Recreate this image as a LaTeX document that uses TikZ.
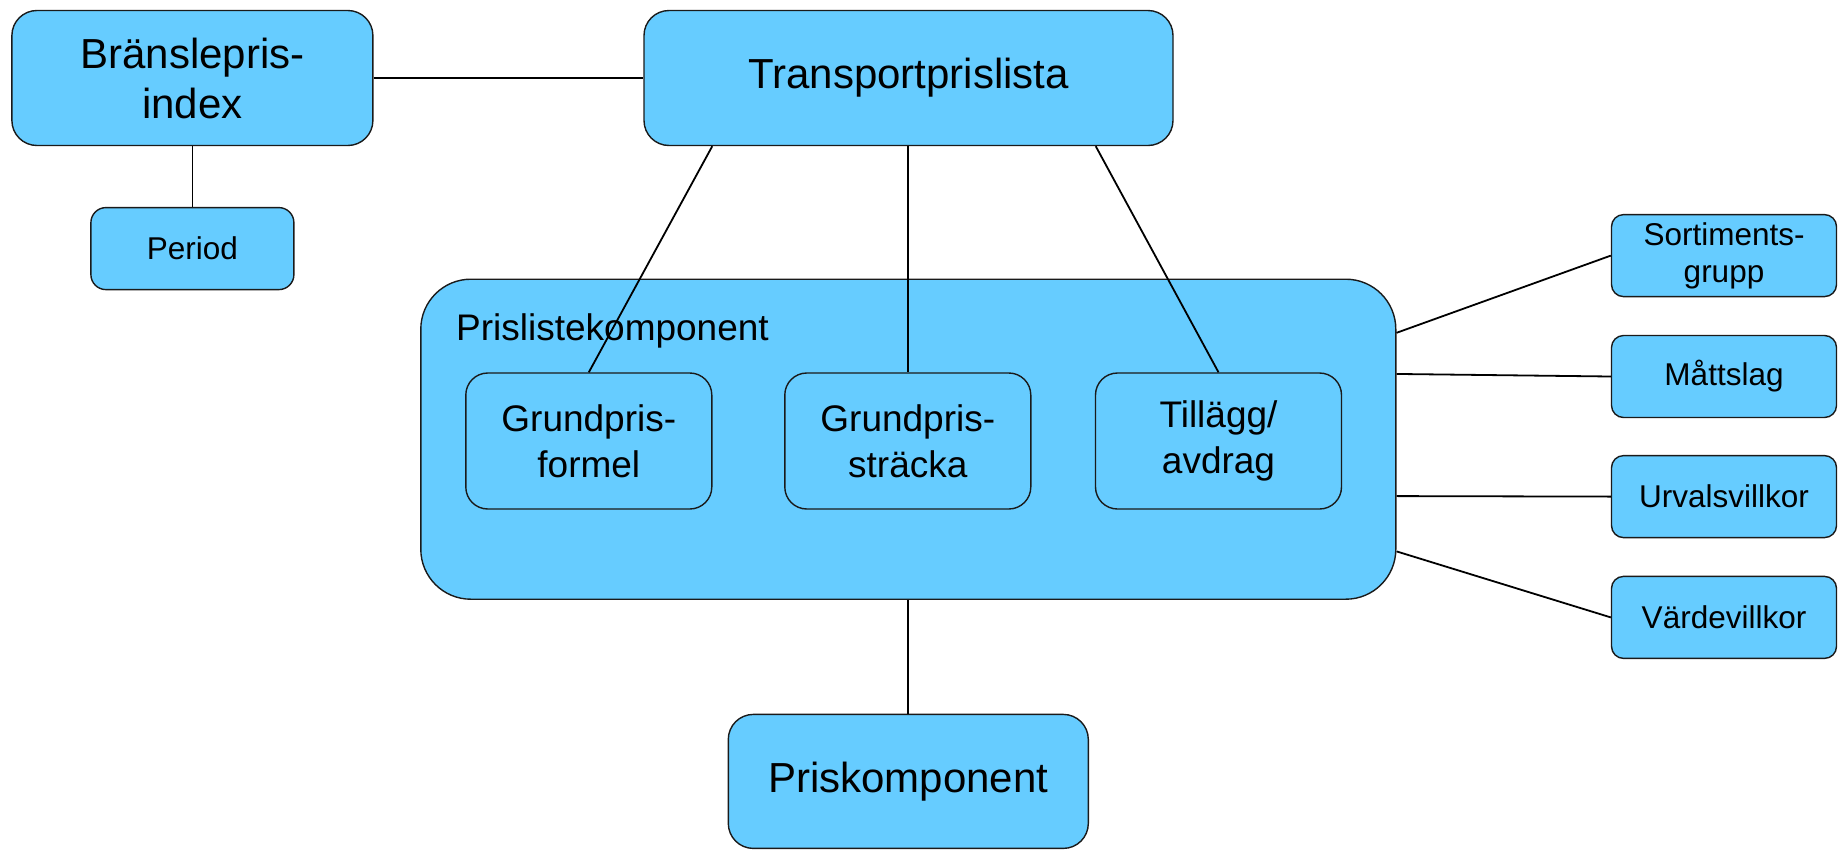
\documentclass[tikz,border=0pt]{standalone}
\usepackage{fontspec}
\setmainfont{Liberation Sans}
\usetikzlibrary{calc}
\definecolor{boxblue}{HTML}{66CCFF}
\definecolor{rimgray}{HTML}{1A1A1A}
\tikzset{
  box/.style={draw=rimgray, line width=1.4pt, fill=boxblue, rectangle,
    align=center, inner sep=0pt, anchor=center},
  bigfont/.style={font=\fontsize{42}{50}\selectfont},
  midfont/.style={font=\fontsize{37}{46}\selectfont},
  smallfont/.style={font=\fontsize{31.5}{37}\selectfont},
  link/.style={draw=black, line width=1.8pt},
}
\begin{document}
\begin{tikzpicture}[x=1pt, y=-1pt]
\useasboundingbox (0,0) rectangle (1839,849);

% top row
\node[box, bigfont, rounded corners=25pt, minimum width=361pt, minimum height=135pt]
  (fuel) at (192.4,78) {Bränslepris-\\index};
\node[box, bigfont, rounded corners=25pt, minimum width=529pt, minimum height=135pt]
  (tpl) at (908.5,78) {Transportprislista};
\node[box, smallfont, rounded corners=15pt, minimum width=203pt, minimum height=82pt]
  (period) at (192.4,248.6) {Period};

% price list component container
\node[box, rounded corners=50pt, minimum width=975pt, minimum height=320pt]
  (plk) at (908.3,439.2) {};
\node[midfont, anchor=base west, inner sep=0pt] (plklabel) at (456,340) {Prislistekomponent};

% inner components
\node[box, midfont, rounded corners=22pt, minimum width=246pt, minimum height=136pt]
  (gpf) at (588.8,441) {Grundpris-\\formel};
\node[box, midfont, rounded corners=22pt, minimum width=246pt, minimum height=136pt]
  (gps) at (907.8,441) {Grundpris-\\sträcka};
\node[box, midfont, rounded corners=22pt, minimum width=246pt, minimum height=136pt]
  (tla) at (1218.5,441) {Tillägg/\\avdrag};

% price component
\node[box, bigfont, rounded corners=25pt, minimum width=360pt, minimum height=134pt]
  (pk) at (908.3,781.4) {Priskomponent};

% conditions on the right
\node[box, smallfont, rounded corners=12pt, minimum width=225pt, minimum height=82pt]
  (sg) at (1724,255.6) {Sortiments-\\grupp};
\node[box, smallfont, rounded corners=12pt, minimum width=225pt, minimum height=82pt]
  (ms) at (1724,376.5) {Måttslag};
\node[box, smallfont, rounded corners=12pt, minimum width=225pt, minimum height=82pt]
  (uv) at (1724,496.6) {Urvalsvillkor};
\node[box, smallfont, rounded corners=12pt, minimum width=225pt, minimum height=82pt]
  (vv) at (1724,617.4) {Värdevillkor};

% connectors
\draw[link] (fuel.east) -- (tpl.west);
\draw[link] (fuel.south) -- (period.north);
\draw[link] ($(tpl.south west)!0.13!(tpl.south east)$) -- (gpf.north);
\draw[link] (gps.north |- tpl.south) -- (gps.north);
\draw[link] ($(tpl.south west)!0.853!(tpl.south east)$) -- (tla.north);
\draw[link] (pk.north |- plk.south) -- (pk.north);
\draw[link] ($(plk.north east)!0.169!(plk.south east)$) -- (sg.west);
\draw[link] ($(plk.north east)!0.297!(plk.south east)$) -- (ms.west);
\draw[link] ($(plk.north east)!0.677!(plk.south east)$) -- (uv.west);
\draw[link] ($(plk.north east)!0.849!(plk.south east)$) -- (vv.west);
\end{tikzpicture}
\end{document}
